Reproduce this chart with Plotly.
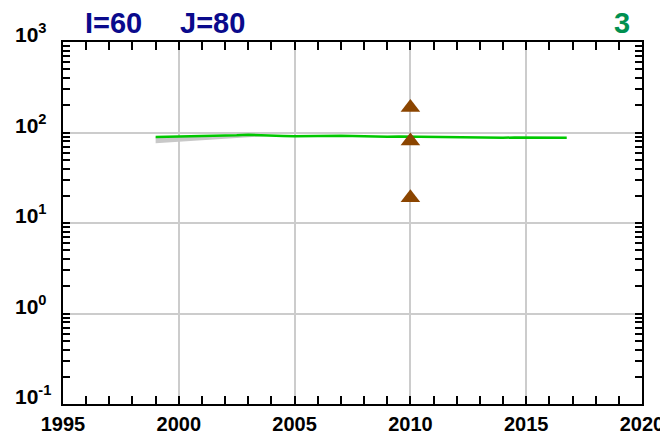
import math
import plotly.graph_objects as go

# ---- data ----
years = [1999.0, 1999.5, 2000.0, 2000.5, 2001.0, 2001.5, 2002.0, 2002.5, 2003.0, 2003.5,
         2004.0, 2004.5, 2005.0, 2005.5, 2006.0, 2006.5, 2007.0, 2007.5, 2008.0, 2008.5,
         2009.0, 2009.5, 2010.0, 2010.5, 2011.0, 2011.5, 2012.0, 2012.5, 2013.0, 2013.5,
         2014.0, 2014.5, 2015.0, 2015.5, 2016.0, 2016.5, 2016.75]
values = [89.0, 89.5, 90.0, 91.0, 90.5, 91.5, 92.0, 93.0, 94.5, 93.0,
          92.5, 91.5, 91.0, 91.5, 92.0, 91.0, 92.0, 91.5, 90.5, 91.0,
          90.0, 90.5, 90.0, 89.5, 90.0, 89.0, 89.5, 88.0, 88.5, 87.0,
          87.5, 88.0, 88.0, 87.5, 88.0, 87.5, 87.5]

band_years = [1999.0, 2000.0, 2001.0, 2002.0, 2003.0, 2004.0]
band_low = [76.0, 79.0, 82.0, 85.0, 89.0, 92.0]
band_high = [89.0, 90.0, 90.5, 92.0, 94.5, 92.5]

obs_years = [2010, 2010, 2010]
obs_values = [189.0, 80.5, 19.0]

x_ticks = [1995, 2000, 2005, 2010, 2015, 2020]
y_decades = [0.1, 1, 10, 100, 1000]
y_tick_labels = ["10<sup>-1</sup>", "10<sup>0</sup>", "10<sup>1</sup>", "10<sup>2</sup>", "10<sup>3</sup>"]
y_minor = [m * d for d in [0.1, 1, 10, 100] for m in range(2, 10)]

FONT = "Liberation Sans, Arial, sans-serif"

# page has an 8px body margin; figure is sized so plot area lands at (63,42)-(642,404)
W, H = 660, 426
ML, MT, MR, MB = 55, 34, 26, 30
PW = W - ML - MR

fig = go.Figure()
fig.add_trace(go.Scatter(x=band_years, y=band_low, mode="lines",
                         line=dict(color="rgba(0,0,0,0)", width=0), showlegend=False, hoverinfo="skip"))
fig.add_trace(go.Scatter(x=band_years, y=band_high, mode="lines", fill="tonexty",
                         fillcolor="#c8c8c8", line=dict(color="rgba(0,0,0,0)", width=0),
                         showlegend=False, hoverinfo="skip"))
fig.add_trace(go.Scatter(x=years, y=values, mode="lines",
                         line=dict(color="#00c800", width=2.5), showlegend=False))
fig.add_trace(go.Scatter(x=obs_years, y=obs_values, mode="markers",
                         marker=dict(symbol="triangle-up", size=17, color="#8b4500",
                                     line=dict(width=0)), showlegend=False))

fig.update_layout(
    width=W, height=H, autosize=False,
    margin=dict(l=ML, r=MR, t=MT, b=MB, pad=0, autoexpand=False),
    plot_bgcolor="white", paper_bgcolor="white",
    showlegend=False,
    xaxis=dict(
        range=[1995, 2020], tickmode="array", tickvals=x_ticks, automargin=False,
        ticks="inside", ticklen=8, tickwidth=2, tickcolor="black", ticklabelstandoff=1,
        ticklabeloverflow="allow",
        showline=True, linecolor="black", linewidth=2, mirror="ticks",
        showgrid=True, gridcolor="#cccccc", gridwidth=2, zeroline=False,
        tickfont=dict(family=FONT, size=20, color="black", weight="bold"),
        minor=dict(tickmode="linear", tick0=1995, dtick=1, ticks="inside",
                   ticklen=8, tickwidth=2, tickcolor="black", showgrid=False),
    ),
    yaxis=dict(
        type="log", range=[-1, 3], tickmode="array", tickvals=y_decades, automargin=False,
        showticklabels=False,
        ticks="inside", ticklen=7, tickwidth=2, tickcolor="black",
        showline=True, linecolor="black", linewidth=2, mirror="ticks",
        showgrid=True, gridcolor="#cccccc", gridwidth=2, zeroline=False,
        minor=dict(tickmode="array", tickvals=y_minor, ticks="inside",
                   ticklen=7, tickwidth=2, tickcolor="black", showgrid=False),
    ),
)

for v, lab in zip(y_decades, y_tick_labels):
    fig.add_annotation(x=(13 - 63) / PW, xref="paper", y=math.log10(v), yref="y", text=lab,
                       xanchor="left", yanchor="bottom", yshift=-6, showarrow=False,
                       font=dict(family=FONT, size=21, color="black", weight="bold"))

title_font = dict(family=FONT, size=29, color="#0a0a8c", weight="bold")
fig.add_annotation(x=(83 - 63) / PW, xref="paper", y=1, yref="paper", text="I=60", showarrow=False,
                   xanchor="left", yanchor="bottom", yshift=1, font=title_font)
fig.add_annotation(x=(178 - 63) / PW, xref="paper", y=1, yref="paper", text="J=80", showarrow=False,
                   xanchor="left", yanchor="bottom", yshift=1, font=title_font)
fig.add_annotation(x=(632 - 63) / PW, xref="paper", y=1, yref="paper", text="3", showarrow=False,
                   xanchor="right", yanchor="bottom", yshift=1,
                   font=dict(family=FONT, size=29, color="#009050", weight="bold"))

fig.write_html("out.html")
